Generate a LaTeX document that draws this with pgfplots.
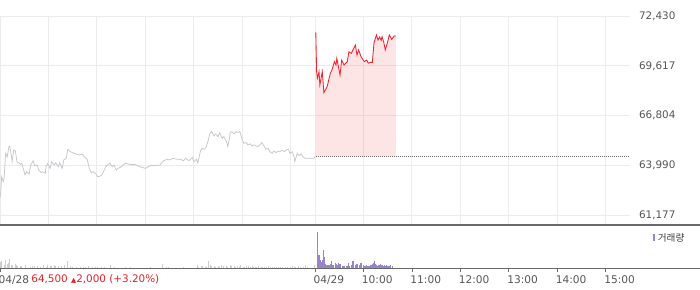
\documentclass[border=0pt]{standalone}
\usepackage{pgfplots}
\usepackage{pgfplotstable}
\pgfplotsset{compat=1.18}
\usepackage{fontspec}
\setmainfont{DejaVu Sans}
\newfontfamily\krfont{Noto Sans CJK KR}
\definecolor{gridc}{RGB}{236,236,236}
\definecolor{gline}{RGB}{198,198,204}
\definecolor{rline}{RGB}{240,35,45}
\definecolor{volp}{RGB}{152,132,202}
\definecolor{volg}{RGB}{204,204,210}
\definecolor{txt}{RGB}{85,85,85}
\definecolor{ltxt}{RGB}{60,60,60}
\definecolor{rtxt}{RGB}{232,32,40}
\definecolor{axc}{RGB}{105,105,105}

% price, 04/28 (minutes from 09:00)
\pgfplotstableread{
x y
0 62140
1 62500
2 63340
4 63060
5 63200
7 64665
9 64475
11 65040
12 65080
14 64570
15 64190
17 64850
19 64800
21 64190
24 64100
25 64040
27 64100
31 63440
33 63625
36 63480
38 64000
41 64250
43 63950
46 64000
48 63720
51 63570
53 63625
56 63530
57 63910
59 64100
62 63815
64 64190
67 64000
69 64130
72 63910
74 64130
77 63815
79 64290
82 64380
84 64890
87 64760
90 64700
94 64630
98 64570
102 64630
104 64475
108 64330
110 63910
113 63570
116 63625
119 63480
121 63340
124 63380
126 63440
129 63720
131 63910
134 64040
136 64100
139 63910
141 64000
144 63720
146 63815
149 63870
155 64100
161 64040
167 64040
173 63910
180 63815
186 63970
192 63970
198 64000
202 64230
207 64330
210 64290
214 64380
219 64330
223 64330
227 64250
230 64380
234 64250
238 64440
240 64190
243 64330
245 64130
248 64760
250 64950
253 64890
255 65000
258 65420
260 65800
262 65890
265 65650
267 65760
270 65610
272 65840
275 65510
277 65610
280 65380
282 65040
284 65510
285 65840
287 65890
290 65760
292 65890
295 65840
297 65890
300 65420
302 65230
305 65270
307 65140
310 65200
312 65080
314 65140
317 65080
319 65040
322 65140
324 65270
327 65080
329 64890
332 64950
334 64760
337 64665
339 64800
342 64700
344 64800
347 64760
349 64850
352 64760
354 64850
357 64890
359 64665
362 64760
364 64475
365 64190
368 64665
370 64530
373 64630
375 64475
378 64380
381 64380
385 64380
389 64380
390 64500
}\dayone

% price, 04/29
\pgfplotstableread{
x y
391 71510
392 69280
393 68920
395 69280
396 68530
399 69280
401 68095
405 68430
409 69190
411 69375
414 69850
416 69660
417 70040
421 69090
423 69940
426 69660
430 69850
432 70410
435 70320
437 70510
440 70790
442 70220
444 70510
447 70130
451 69850
454 69940
456 69760
459 69810
461 69810
463 70890
466 71360
468 71070
470 71240
472 71050
473 71260
475 70980
477 70510
480 70980
482 71360
485 71110
488 71300
490 71300
}\daytwo

% volume (relative units), 04/28
\pgfplotstableread{
x y
1 6
2 6.7
5 2.7
7 7.7
9 4.3
10 5
11 8.7
12 3.3
14 2.7
15 2.7
19 3.7
20 2.7
22 2
25 1.7
27 2
31 1.3
32 2.7
37 1.3
40 2
42 1.7
46 1.7
50 1
54 3
57 1.3
59 2.7
62 2
64 2.3
67 3
69 2
72 1.7
76 1.7
80 3.3
84 6.7
87 2
90 1
95 1.3
99 1
103 1.3
106 1.3
110 2.3
114 1.3
118 1
121 1.3
125 1.3
129 1.3
137 2.7
142 1
155 1
161 1
186 1
201 4.3
206 1
209 1
227 1
244 2.7
246 1.3
249 1.7
251 1.7
254 1.3
256 1.3
258 6.7
260 3.3
262 2
265 1.7
267 1.3
270 2
272 1.3
274 3
277 1.7
280 2.3
282 1.3
285 2.7
287 1.7
290 2.3
292 1.3
294 1.7
296 1.3
298 2.7
301 1.3
303 1.3
305 2
308 1.7
310 1.3
312 2
314 1.3
316 1
318 1.3
320 2
323 1.3
325 1.3
327 1
330 1.3
332 2
335 1.3
337 1.3
340 1.3
342 1.3
345 1.3
347 1
350 1.3
353 1.3
356 1.3
359 1.3
362 2.3
364 1.3
366 1.3
369 1.7
372 1.3
375 1.3
378 2.7
380 1
389 3.3
}\volone

% volume (relative units), 04/29
\pgfplotstableread{
x y
393 36
394 9.3
395 13.3
396 11
397 7.7
398 6
399 8
400 17.7
401 5.3
402 11
403 4
404 2.7
405 3
406 3.5
407 3.3
408 3
409 4
410 6.7
411 3.5
412 3
413 3.5
415 5
416 4.3
417 3
418 3.5
419 5
420 3.5
421 4.3
422 3
424 1.7
425 2
426 2
427 2
429 2
430 2.5
431 2
432 5
433 2.5
435 2.7
436 3
437 6.7
438 3
440 3.3
441 3
442 4.3
443 2.5
445 2.7
446 2.5
447 5
448 3
450 3.3
451 1.7
452 2
454 2.7
455 2.5
456 2
457 2
459 3.3
460 3
461 4.3
462 3.5
463 5
464 6.7
465 4
466 3.3
467 2.5
469 2.7
470 3
471 4.3
472 3
474 2.7
475 2.5
476 2.7
477 2
479 3.3
480 2.5
481 2
482 2
484 2.7
486 2
}\voltwo

\begin{document}
\begin{tikzpicture}
\useasboundingbox (0pt,0pt) rectangle (700pt,289pt);
% ---------- price panel ----------
\begin{axis}[
  at={(0pt,64pt)}, anchor=south west, scale only axis,
  width=630pt, height=209pt,
  xmin=0, xmax=780, ymin=60612, ymax=72430,
  axis line style={draw=none},
  scaled y ticks=false, scaled x ticks=false,
  xtick={0,60,120,180,240,300,360,390,450,510,570,630,690,750},
  xticklabels={},
  major tick length=0pt,
  xmajorgrids, ymajorgrids,
  grid style={gridc, line width=0.9pt},
  ytick={61177,63990,66804,69617,72430},
  yticklabels={{61,177},{63,990},{66,804},{69,617},{72,430}},
  yticklabel pos=right,
  yticklabel style={anchor=west, xshift=5.5pt},
  tick label style={font=\fontsize{10.4}{12}\selectfont, text=txt},
]
\addplot[fill=rline, fill opacity=0.12, draw=none] table {\daytwo}
  -- (axis cs:490,64500) -- (axis cs:391,64500) -- cycle;
\addplot[gline, line width=0.75pt] table {\dayone};
\addplot[axc, line width=0.7pt, dash pattern=on 0.9pt off 1.1pt] coordinates {(391,64500) (780,64500)};
\addplot[rline, line width=0.85pt] table {\daytwo};
\end{axis}
% ---------- volume panel ----------
\begin{axis}[
  at={(0pt,21pt)}, anchor=south west, scale only axis,
  width=630pt, height=42pt,
  xmin=0, xmax=780, ymin=0, ymax=42,
  axis line style={draw=none},
  ytick=\empty,
  xtick={450,510,570,630,690,750},
  xticklabels={10:00,11:00,12:00,13:00,14:00,15:00},
  extra x ticks={0,390},
  extra x tick labels={04/28,04/29},
  extra x tick style={xticklabel style={anchor=north west, xshift=0pt}},
  xtick pos=lower,
  tick align=outside,
  major tick length=4pt,
  tick style={axc, line width=0.8pt},
  xticklabel style={anchor=north west, xshift=-5pt},
  tick label style={font=\fontsize{10.6}{12}\selectfont, text=txt},
]
\addplot[ycomb, volg, line width=0.75pt] table {\volone};
\addplot[ycomb, volp, line width=1.1pt] table {\voltwo};
\end{axis}
% panel separator lines
\draw[axc, line width=1.3pt] (0pt,64pt) -- (700pt,64pt);
\draw[axc, line width=0.9pt] (0pt,21pt) -- (700pt,21pt);
% change text after the first date
\node[anchor=base west, inner sep=0pt, text=rtxt, font=\fontsize{10.4}{12}\selectfont] at (31.2pt,6.7pt)
  {64,500 {\fontsize{6.8}{7}\selectfont ▲}2,000 (+3.20\%)};
% volume legend
\node[anchor=base west, inner sep=0pt] at (652.3pt,47.8pt)
  {\textcolor{volp}{\rule[-0.2pt]{2.8pt}{7.2pt}}\hspace{2.6pt}{\krfont\fontsize{9.6}{11}\selectfont\color{ltxt}거래량}};
\end{tikzpicture}
\end{document}
